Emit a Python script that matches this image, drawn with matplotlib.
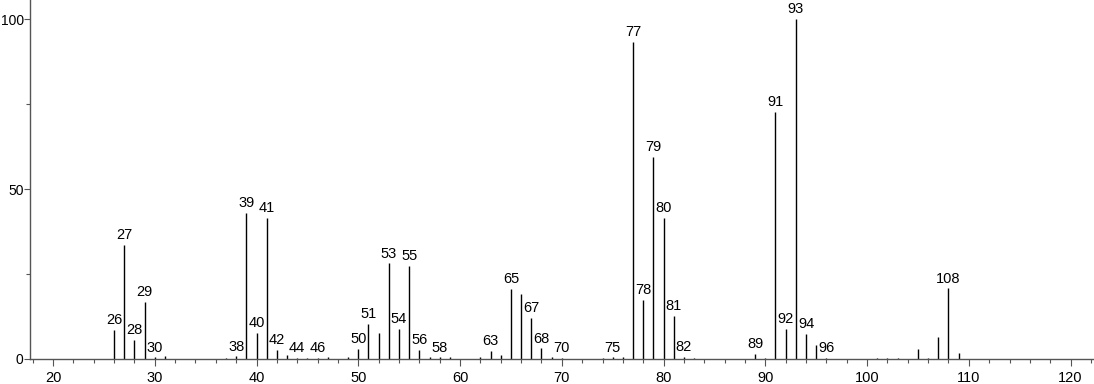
import matplotlib
matplotlib.use("Agg")
import matplotlib.pyplot as plt
from matplotlib.ticker import MultipleLocator

plt.rcParams["font.family"] = ["Liberation Sans", "DejaVu Sans"]

# ── Data ──────────────────────────────────────────────────────────────────────

mz = [26, 27, 28, 29, 30, 31, 37, 38, 39, 40, 41, 42, 43, 44, 45, 46, 47, 49,
      50, 51, 52, 53, 54, 55, 56, 57, 58, 59, 62, 63, 64, 65, 66, 67, 68, 69,
      70, 74, 75, 76, 77, 78, 79, 80, 81, 82, 83, 89, 90, 91, 92, 93, 94, 95,
      96, 101, 102, 103, 105, 106, 107, 108, 109]
intensity = [8.5, 33.5, 5.6, 16.9, 0.5, 1.0, 0.3, 0.8, 43.0, 7.6, 41.5, 2.6, 1.2, 0.3, 0.3, 0.3, 0.5, 0.5,
             2.9, 10.3, 7.7, 28.1, 8.9, 27.4, 2.6, 0.5, 0.5, 0.5, 0.5, 2.3, 1.2, 20.6, 19.1, 12.0, 3.1, 0.7,
             0.3, 0.3, 0.5, 0.5, 93.2, 17.5, 59.4, 41.5, 12.6, 0.7, 0.3, 1.4, 0.3, 72.6, 8.8, 100.0, 7.5, 4.1,
             0.3, 0.3, 0.3, 0.3, 2.8, 0.3, 6.6, 20.8, 1.7]
labelled = [26, 27, 28, 29, 30, 38, 39, 40, 41, 42, 44, 46, 50, 51, 53, 54, 55, 56, 58,
            63, 65, 67, 68, 70, 75, 77, 78, 79, 80, 81, 82, 89, 91, 92, 93, 94, 96, 108]

# ── Figure ────────────────────────────────────────────────────────────────────

fig = plt.figure(figsize=(10.94, 3.84), dpi=100)
ax = fig.add_axes([30 / 1094, 25 / 384, 1 - 30 / 1094, 359 / 384])

ax.vlines(mz, 0, intensity, color="black", linewidth=1.0)
for m, v in zip(mz, intensity):
    if m in labelled:
        ax.annotate(str(m), (m, v), xytext=(0, 2), textcoords="offset points",
                    ha="center", va="bottom", fontsize=10.5, annotation_clip=False)

ax.set_xlim(17.74, 122.3)
ax.set_ylim(0, 105.6)
ax.xaxis.set_major_locator(MultipleLocator(10))
ax.xaxis.set_minor_locator(MultipleLocator(2))
ax.yaxis.set_major_locator(MultipleLocator(50))
ax.yaxis.set_minor_locator(MultipleLocator(25))
ax.tick_params(which="major", length=5, width=0.8, labelsize=10.5, direction="out")
ax.tick_params(which="minor", length=3, width=0.8, direction="out")
ax.tick_params(axis="y", which="major", length=4, pad=0.5, labelsize=10)
for s in ("top", "right"):
    ax.spines[s].set_visible(False)
for s in ("left", "bottom"):
    ax.spines[s].set_color("#555555")
    ax.spines[s].set_linewidth(1.0)
ax.tick_params(colors="#555555", labelcolor="black", which="both")

fig.savefig("out.png", dpi=100)
